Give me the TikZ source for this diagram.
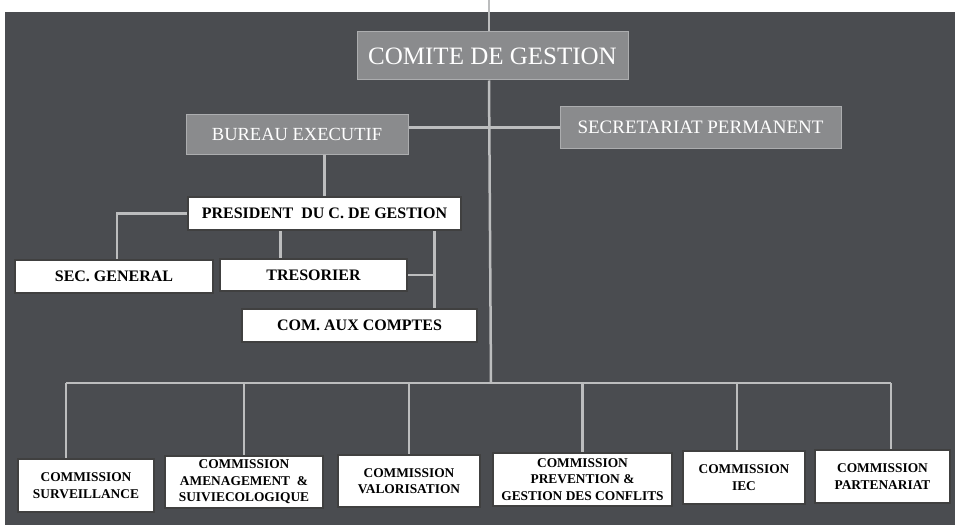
\documentclass[tikz,border=0pt]{standalone}
\usepackage{fontspec}
\setmainfont{Liberation Serif}
\definecolor{fond}{RGB}{74,76,80}
\definecolor{grisbox}{RGB}{138,139,141}
\definecolor{grisbord}{RGB}{172,173,175}
\definecolor{trait}{RGB}{188,189,190}
\begin{document}
\begin{tikzpicture}[x=1pt,y=-1pt,
	chef/.style={draw=grisbord, line width=1pt, fill=grisbox, text=white, inner sep=0pt, font=\fontsize{19}{21}\selectfont},
	membre/.style={draw=black!75, line width=2pt, fill=white, inner sep=0pt, font=\bfseries\fontsize{16}{18}\selectfont},
	comm/.style={membre, align=center, font=\bfseries\fontsize{13.4}{16.5}\selectfont},
	lien/.style={draw=trait, line width=2.5pt}]
	
	\useasboundingbox (0,0) rectangle (955,532);
	\fill[fond] (5,12) rectangle (955,525);
	
	% direction
	\node[chef, minimum width=271, minimum height=48, font=\fontsize{25}{28}\selectfont] (comite) at (492.5,56) {COMITE DE GESTION};
	\node[chef, minimum width=222, minimum height=39, font=\fontsize{18.5}{21}\selectfont] (bureau) at (297,134.5) {BUREAU EXECUTIF};
	\node[chef, minimum width=281, minimum height=41] (secr) at (700.5,127.5) {SECRETARIAT PERMANENT};
	
	% bureau
	\node[membre, minimum width=273, minimum height=33] (pres) at (324.5,213.5) {PRESIDENT\ \ DU C. DE GESTION};
	\node[membre, minimum width=198, minimum height=33] (secgen) at (114,276.5) {SEC. GENERAL};
	\node[membre, minimum width=187, minimum height=32] (treso) at (313.5,275) {TRESORIER};
	\node[membre, minimum width=235, minimum height=33] (comptes) at (359.5,325.5) {COM. AUX COMPTES};
	
	% commissions
	\node[comm, minimum width=136, minimum height=53] (surv) at (86,485.5) {COMMISSION\\SURVEILLANCE};
	\node[comm, minimum width=158, minimum height=52] (amen) at (244,482) {COMMISSION\\AMENAGEMENT\ \ \&\\SUIVIECOLOGIQUE};
	\node[comm, minimum width=142, minimum height=52] (valo) at (409,481) {COMMISSION\\VALORISATION};
	\node[comm, minimum width=179, minimum height=53] (prev) at (582.5,479.5) {COMMISSION\\PREVENTION \&\\GESTION DES CONFLITS};
	\node[comm, minimum width=122, minimum height=53] (iec) at (744,477.5) {COMMISSION\\IEC};
	\node[comm, minimum width=135, minimum height=53] (part) at (882.5,476.5) {COMMISSION\\PARTENARIAT};
	
	% traits
	\coordinate (haut) at (489,0);
	\coordinate (bus) at (491,383);
	\coordinate (droite) at ([xshift=75pt]comptes.north);
	\coordinate (gauche) at ([xshift=-33pt]treso.north);
	\draw[lien] (haut) -- (haut |- comite.north);
	\draw[lien] (comite.south -| haut) -- (bus);
	\draw[lien] (bureau.east |- secr.west) -- (secr.west);
	\draw[lien] (pres.north) -- (pres.north |- bureau.south);
	\draw[lien] (pres.west) -| ([xshift=3pt]secgen.north);
	\draw[lien] (gauche) -- (gauche |- pres.south);
	\draw[lien] (droite) -- (droite |- pres.south);
	\draw[lien] (treso.east) -- (treso.east -| droite);
	
	\coordinate (d1) at (66,383);
	\coordinate (d6) at (891,383);
	\draw[lien] (d1) -- (d6);
	\draw[lien] (d1) -- (d1 |- surv.north);
	\draw[lien] (amen.north |- bus) -- (amen.north);
	\draw[lien] (valo.north |- bus) -- (valo.north);
	\draw[lien] (prev.north |- bus) -- (prev.north);
	\draw[lien] ([xshift=-7pt]iec.north |- bus) -- ([xshift=-7pt]iec.north);
	\draw[lien] (d6) -- (d6 |- part.north);
\end{tikzpicture}
\end{document}
